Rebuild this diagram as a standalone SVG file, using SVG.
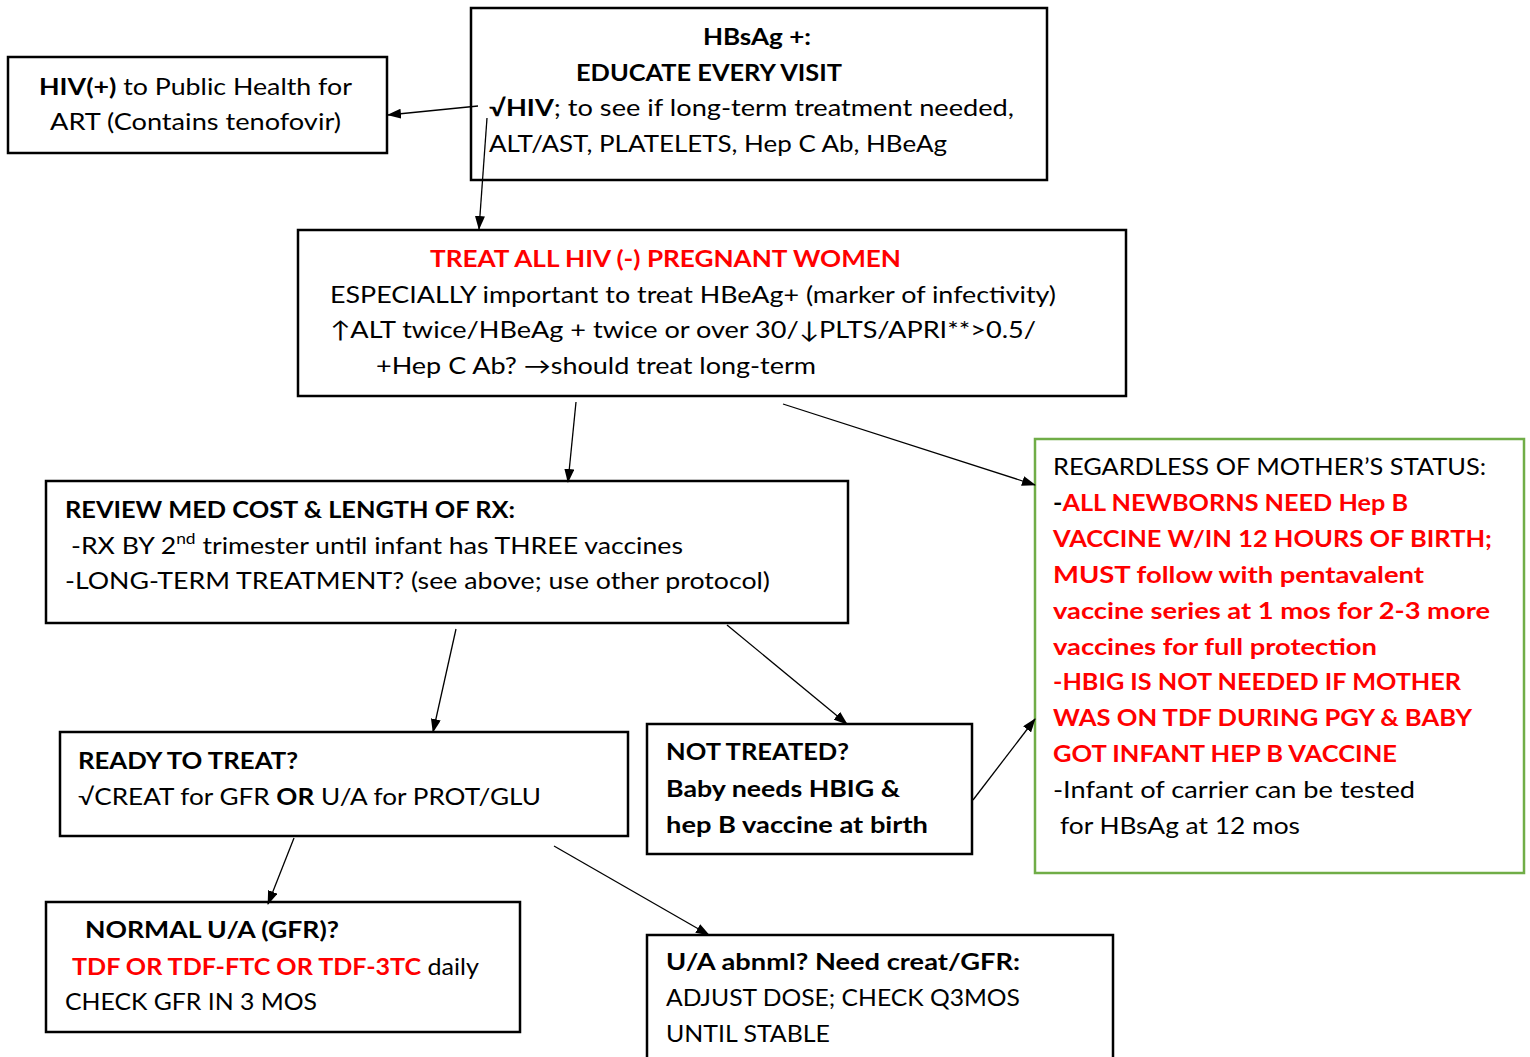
<svg xmlns="http://www.w3.org/2000/svg" width="1530" height="1057" viewBox="0 0 1530 1057">
<style>
text{font-family:Lato,"Open Sans","DejaVu Sans",sans-serif;font-size:23px;fill:#000}
.b{font-weight:bold}
.r{fill:#ff0000;font-weight:bold}
.box{fill:#fff;stroke:#000;stroke-width:2.5}
.gbox{fill:#fff;stroke:#70ad47;stroke-width:2.5}
.c line{stroke:#000;stroke-width:1.3;marker-end:url(#ah)}
</style>
<defs>
<marker id="ah" viewBox="0 0 14 10" refX="13" refY="5" markerWidth="14" markerHeight="10" markerUnits="userSpaceOnUse" orient="auto">
<path d="M0,0 L14,5 L0,10 z" fill="#000"/>
</marker>
</defs>
<rect width="1530" height="1057" fill="#fff"/>

<g id="hiv">
<rect class="box" x="8" y="57" width="379" height="96"/>
<text x="39" y="95" textLength="313" lengthAdjust="spacingAndGlyphs"><tspan class="b">HIV(+)</tspan> to Public Health for</text>
<text x="50" y="130" textLength="291" lengthAdjust="spacingAndGlyphs">ART (Contains tenofovir)</text>
</g>

<g id="hbsag">
<rect class="box" x="471" y="8" width="576" height="172"/>
<text class="b" x="703" y="45" textLength="108" lengthAdjust="spacingAndGlyphs">HBsAg +:</text>
<text class="b" x="576" y="81" textLength="266" lengthAdjust="spacingAndGlyphs">EDUCATE EVERY VISIT</text>
<text x="489" y="116" textLength="525" lengthAdjust="spacingAndGlyphs"><tspan class="b">√HIV</tspan>; to see if long-term treatment needed,</text>
<text x="489" y="152" textLength="458" lengthAdjust="spacingAndGlyphs">ALT/AST, PLATELETS, Hep C Ab, HBeAg</text>
</g>

<g id="treat">
<rect class="box" x="298" y="230" width="828" height="166"/>
<text class="r" x="430" y="267" textLength="471" lengthAdjust="spacingAndGlyphs">TREAT ALL HIV (-)  PREGNANT WOMEN</text>
<text x="330" y="303" textLength="726" lengthAdjust="spacingAndGlyphs">ESPECIALLY important to treat HBeAg+ (marker of infectivity)</text>
<text x="330" y="338" textLength="706" lengthAdjust="spacingAndGlyphs">↑ALT twice/HBeAg + twice or over 30/↓PLTS/APRI**&gt;0.5/</text>
<text x="376" y="374" textLength="440" lengthAdjust="spacingAndGlyphs">+Hep C Ab? →should treat long-term</text>
</g>

<g id="review">
<rect class="box" x="46" y="481" width="802" height="142"/>
<text class="b" x="65" y="518" textLength="450" lengthAdjust="spacingAndGlyphs">REVIEW MED COST &amp; LENGTH OF RX:</text>
<text x="71" y="554" textLength="612" lengthAdjust="spacingAndGlyphs">-RX BY 2<tspan font-size="15" dy="-10">nd</tspan><tspan dy="10"> trimester until infant has THREE vaccines</tspan></text>
<text x="65" y="589" textLength="705" lengthAdjust="spacingAndGlyphs">-LONG-TERM TREATMENT? (see above; use other protocol)</text>
</g>

<g id="regardless">
<rect class="gbox" x="1035" y="439" width="489" height="434"/>
<text x="1053" y="475" textLength="433" lengthAdjust="spacingAndGlyphs">REGARDLESS OF MOTHER’S STATUS:</text>
<text x="1053" y="511" textLength="355" lengthAdjust="spacingAndGlyphs"><tspan class="b">-</tspan><tspan class="r">ALL NEWBORNS NEED Hep B</tspan></text>
<text class="r" x="1053" y="547" textLength="439" lengthAdjust="spacingAndGlyphs">VACCINE W/IN 12 HOURS OF BIRTH;</text>
<text class="r" x="1053" y="583" textLength="371" lengthAdjust="spacingAndGlyphs">MUST follow with pentavalent</text>
<text class="r" x="1053" y="619" textLength="437" lengthAdjust="spacingAndGlyphs">vaccine series at 1 mos for 2-3 more</text>
<text class="r" x="1053" y="655" textLength="324" lengthAdjust="spacingAndGlyphs">vaccines for full protection</text>
<text class="r" x="1053" y="690" textLength="408" lengthAdjust="spacingAndGlyphs">-HBIG IS NOT NEEDED IF MOTHER</text>
<text class="r" x="1053" y="726" textLength="419" lengthAdjust="spacingAndGlyphs">WAS ON TDF DURING PGY &amp; BABY</text>
<text class="r" x="1053" y="762" textLength="344" lengthAdjust="spacingAndGlyphs">GOT INFANT HEP B VACCINE</text>
<text x="1053" y="798" textLength="362" lengthAdjust="spacingAndGlyphs">-Infant of carrier can be tested</text>
<text x="1060" y="834" textLength="240" lengthAdjust="spacingAndGlyphs">for HBsAg at 12 mos</text>
</g>

<g id="ready">
<rect class="box" x="60" y="732" width="568" height="104"/>
<text class="b" x="78" y="769" textLength="220" lengthAdjust="spacingAndGlyphs">READY TO TREAT?</text>
<text x="78" y="805" textLength="463" lengthAdjust="spacingAndGlyphs">√CREAT for GFR <tspan class="b">OR</tspan> U/A  for PROT/GLU</text>
</g>

<g id="nottreated">
<rect class="box" x="647" y="724" width="325" height="130"/>
<text class="b" x="666" y="760" textLength="183" lengthAdjust="spacingAndGlyphs">NOT TREATED?</text>
<text class="b" x="666" y="797" textLength="234" lengthAdjust="spacingAndGlyphs">Baby needs HBIG &amp;</text>
<text class="b" x="666" y="833" textLength="262" lengthAdjust="spacingAndGlyphs">hep B vaccine at birth</text>
</g>

<g id="normal">
<rect class="box" x="46" y="902" width="474" height="130"/>
<text class="b" x="85" y="938" textLength="254" lengthAdjust="spacingAndGlyphs">NORMAL U/A (GFR)?</text>
<text x="72" y="975" textLength="407" lengthAdjust="spacingAndGlyphs"><tspan class="r">TDF OR TDF-FTC OR TDF-3TC</tspan> daily</text>
<text x="65" y="1010" textLength="252" lengthAdjust="spacingAndGlyphs">CHECK GFR IN 3 MOS</text>
</g>

<g id="abnormal">
<rect class="box" x="647" y="935" width="466" height="130"/>
<text class="b" x="666" y="970" textLength="354" lengthAdjust="spacingAndGlyphs">U/A abnml? Need creat/GFR:</text>
<text x="666" y="1006" textLength="354" lengthAdjust="spacingAndGlyphs">ADJUST DOSE; CHECK Q3MOS</text>
<text x="666" y="1042" textLength="164" lengthAdjust="spacingAndGlyphs">UNTIL STABLE</text>
</g>

<g id="connectors" class="c">
<line x1="478" y1="106" x2="388" y2="115"/>
<line x1="487" y1="118" x2="479" y2="229"/>
<line x1="576" y1="402" x2="568" y2="482"/>
<line x1="783" y1="404" x2="1035" y2="485"/>
<line x1="456" y1="629" x2="433" y2="732"/>
<line x1="727" y1="625" x2="847" y2="724"/>
<line x1="973" y1="800" x2="1035" y2="719"/>
<line x1="294" y1="838" x2="268" y2="904"/>
<line x1="554" y1="846" x2="709" y2="935"/>
</g>
</svg>
